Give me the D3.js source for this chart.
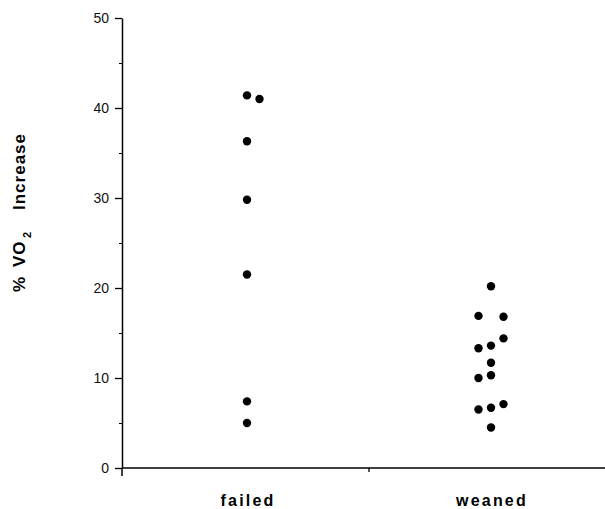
<!DOCTYPE html>
<html>
<head>
<meta charset="utf-8">
<script src="https://cdn.jsdelivr.net/npm/d3@7"></script>
<style>
  body { margin: 0; background: #fff; }
  svg { display: block; font-family: "Liberation Sans", Arial, Helvetica, sans-serif; }
</style>
</head>
<body>
<svg id="chart"></svg>
<script>
// groups on the x axis
var categories = ["failed", "weaned"];

// % VO2 increase
var failedValues = [41.4, 41.0, 36.3, 29.8, 21.5, 7.4, 5.0];
// column within the group (-1 left, 0 centre, 1 right) for overlapping dots
var failedSlots  = [0, 1, 0, 0, 0, 0, 0];

var weanedValues = [20.2, 16.9, 16.8, 14.4, 13.6, 13.3, 11.7, 10.3, 10.0, 7.1, 6.7, 6.5, 4.5];
var weanedSlots  = [0, -1, 1, 1, 0, -1, 0, 0, -1, 1, 0, -1, 0];

var yTicks = [0, 10, 20, 30, 40, 50];
var yMinorTicks = [5, 15, 25, 35, 45];

var width = 605;
var height = 509;

var svg = d3.select("#chart").attr("width", width).attr("height", height);

var y = d3.scaleLinear().domain([0, 50]).range([468, 18]);
var x = d3.scaleBand().domain(categories).range([125, 613]);
var slot = d3.scaleLinear().domain([-1, 1]).range([-12.5, 12.5]);

var axisX = 122;

// y axis, major ticks
var yAxis = svg.append("g")
	.attr("transform", "translate(" + axisX + ",0)")
	.call(d3.axisLeft(y).tickValues(yTicks).tickSize(7).tickSizeOuter(0).tickPadding(6));
yAxis.select(".domain").attr("stroke-width", 1.5);
yAxis.selectAll(".tick line").attr("stroke-width", 1.3);
yAxis.selectAll(".tick text")
	.style("font-size", "14px")
	.attr("fill", "#111");

// minor ticks
svg.append("g")
	.attr("transform", "translate(" + axisX + ",0)")
	.call(d3.axisLeft(y).tickValues(yMinorTicks).tickSize(3).tickFormat(""))
	.select(".domain").remove();

// y axis runs a little below zero
svg.append("line")
	.attr("x1", axisX).attr("x2", axisX)
	.attr("y1", y(0)).attr("y2", y(0) + 8)
	.attr("stroke", "#000").attr("stroke-width", 1.5);

// x axis
svg.append("line")
	.attr("x1", axisX).attr("x2", width)
	.attr("y1", y(0)).attr("y2", y(0))
	.attr("stroke", "#000").attr("stroke-width", 1.6);

// divider tick between groups
svg.append("line")
	.attr("x1", x("weaned")).attr("x2", x("weaned"))
	.attr("y1", y(0)).attr("y2", y(0) + 4)
	.attr("stroke", "#000").attr("stroke-width", 1.3);

// group labels
svg.append("g").selectAll("text")
	.data(categories)
	.enter().append("text")
	.attr("x", function(d) { return x(d) + x.bandwidth() / 2 + 1; })
	.attr("y", 506)
	.attr("text-anchor", "middle")
	.style("font-size", "16px")
	.style("font-weight", "bold")
	.style("letter-spacing", "2.2px")
	.text(function(d) { return d; });

// dots
var points = [];
failedValues.forEach(function(v, i) { points.push({ group: "failed", value: v, slot: failedSlots[i] }); });
weanedValues.forEach(function(v, i) { points.push({ group: "weaned", value: v, slot: weanedSlots[i] }); });

svg.append("g").selectAll("circle")
	.data(points)
	.enter().append("circle")
	.attr("cx", function(d) { return x(d.group) + x.bandwidth() / 2 + slot(d.slot); })
	.attr("cy", function(d) { return y(d.value); })
	.attr("r", 4.2)
	.attr("fill", "#000");

// y title, rotated
var title = svg.append("text")
	.attr("transform", "translate(25,292) rotate(-90)")
	.style("font-size", "17px")
	.style("font-weight", "bold")
	.style("letter-spacing", "1px");
title.append("tspan").attr("x", 0).text("%");
title.append("tspan").attr("x", 25).text("VO");
title.append("tspan").attr("x", 54).attr("dy", 6).style("font-size", "11px").text("2");
title.append("tspan").attr("x", 82).attr("dy", -6).text("Increase");
</script>
</body>
</html>
